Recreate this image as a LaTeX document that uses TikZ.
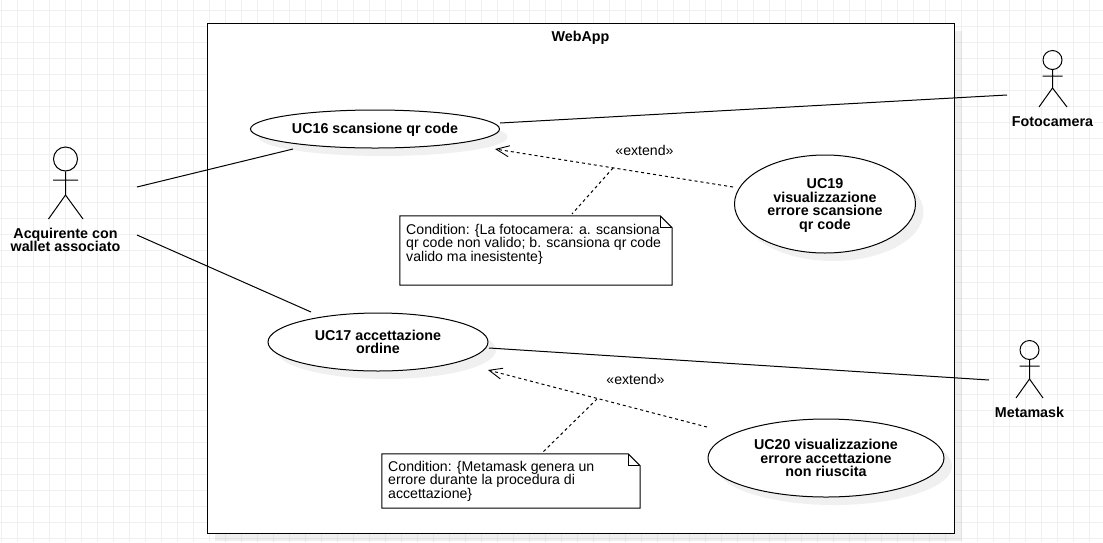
\documentclass[tikz,border=0pt]{standalone}
\usepackage{fontspec}
\setmainfont{Liberation Sans}
\usetikzlibrary{shapes.geometric,arrows.meta,calc}
\definecolor{gridc}{HTML}{F0F0F0}
\newcommand{\regfont}{\fontsize{14.12}{14.5}\selectfont\lineskiplimit=-20pt\relax}
\newcommand{\boldfont}{\fontsize{14.3}{14.5}\selectfont\bfseries\lineskiplimit=-20pt\relax}
\tikzset{
  x=1pt,y=-1pt,
  ln/.style={draw=black,line width=1pt},
  ucase/.style={ellipse,ln,fill=white,inner sep=0pt,align=center,font=\boldfont},
  shade/.style={fill=black,fill opacity=.06},
  actorhead/.style={circle,ln,inner sep=0pt},
  actorlabel/.style={align=center,font=\boldfont,inner sep=0pt},
  plain/.style={font=\regfont,inner sep=0pt},
  notetext/.style={font=\regfont,inner sep=0pt,align=left,anchor=north west},
  notebox/.style={inner sep=0pt,rectangle},
  dep/.style={ln,dash pattern=on 3pt off 3pt},
  deptip/.style={-{Straight Barb[length=13pt,width=11pt,line width=.9pt]}},
}
\begin{document}
\begin{tikzpicture}
\useasboundingbox (0,0) rectangle (1103,542);
\fill[white] (0,0) rectangle (1103,542);
% grid
\foreach \k in {0,...,68} {\draw[gridc,line width=1pt] ({1.5+16*\k},0) -- ({1.5+16*\k},542);}
\foreach \k in {-1,...,33} {\draw[gridc,line width=1pt] (0,{10.5+16*\k}) -- (1103,{10.5+16*\k});}
% system box
\fill[shade] (215,31) rectangle (962,541);
\node[ln,fill=white,rectangle,inner sep=0pt,minimum width=747pt,minimum height=510pt] (webapp) at (580.5,278) {};
\node[font=\boldfont,inner sep=0pt] (webapptitle) at (580.5,37.7) {WebApp};
% ellipse shadows
\fill[shade] (383,137) ellipse [x radius=124.5,y radius=19];
\fill[shade] (386,350) ellipse [x radius=110,y radius=29];
\fill[shade] (833,212) ellipse [x radius=90.5,y radius=49];
\fill[shade] (834,466) ellipse [x radius=118,y radius=39];
% use cases
\node[ucase,minimum width=249pt,minimum height=38pt] (uc16) at (375,129) {\rule{0pt}{12pt}UC16 scansione qr code};
\node[ucase,minimum width=220pt,minimum height=58pt] (uc17) at (378,342) {UC17 accettazione\\[-1pt]ordine};
\node[ucase,minimum width=181pt,minimum height=98pt] (uc19) at (825,204) {\rule{0pt}{13pt}UC19\\[-1pt]visualizzazione\\[-1pt]errore scansione\\[-1pt]qr code};
\node[ucase,minimum width=236pt,minimum height=78pt] (uc20) at (826,458) {UC20 visualizzazione\\[-1pt]errore accettazione\\[-1pt]non riuscita};
% notes
\node[notebox,minimum width=272pt,minimum height=69pt] (note1) at (536,250.5) {};
\draw[ln,fill=white] (note1.north west) -- ($(note1.north east)+(-12,0)$) -- ($(note1.north east)+(0,12)$) -- (note1.south east) -- (note1.south west) -- cycle;
\draw[ln] ($(note1.north east)+(-12,0)$) -- ($(note1.north east)+(-12,12)$) -- ($(note1.north east)+(0,12)$);
\node[notetext] (note1text) at (406,224) {Condition: \{La fotocamera: a. scansiona\\[-1pt]qr code non valido; b. scansiona qr code\\[-1pt]valido ma inesistente\}};
\node[notebox,minimum width=258pt,minimum height=54pt] (note2) at (511,481) {};
\draw[ln,fill=white] (note2.north west) -- ($(note2.north east)+(-12,0)$) -- ($(note2.north east)+(0,12)$) -- (note2.south east) -- (note2.south west) -- cycle;
\draw[ln] ($(note2.north east)+(-12,0)$) -- ($(note2.north east)+(-12,12)$) -- ($(note2.north east)+(0,12)$);
\node[notetext] (note2text) at (388,461) {Condition: \{Metamask genera un\\[-1pt]errore durante la procedura di\\[-1pt]accettazione\}};
% actors
\node[actorhead,minimum size=24pt] (a1) at (65.5,159) {};
\coordinate (a1hip) at (65.5,195);
\coordinate (a1l) at (48.5,219);
\coordinate (a1r) at (83,219);
\coordinate (a1al) at (53,180);
\coordinate (a1ar) at (78,180);
\draw[ln] (a1.south) -- (a1hip) (a1al) -- (a1ar) (a1l) -- (a1hip) -- (a1r);
\node[actorlabel] (a1label) at (65.5,240) {Acquirente con\\[-1pt]wallet associato};
\node[actorhead,minimum size=19pt] (a2) at (1052.5,60) {};
\coordinate (a2hip) at (1052.5,88);
\coordinate (a2l) at (1039,107);
\coordinate (a2r) at (1067,107);
\coordinate (a2al) at (1042.5,76);
\coordinate (a2ar) at (1062.5,76);
\draw[ln] (a2.south) -- (a2hip) (a2al) -- (a2ar) (a2l) -- (a2hip) -- (a2r);
\node[actorlabel] (a2label) at (1052.5,122) {Fotocamera};
\node[actorhead,minimum size=19pt] (a3) at (1029.5,350) {};
\coordinate (a3hip) at (1029.5,379);
\coordinate (a3l) at (1016,398);
\coordinate (a3r) at (1043,398);
\coordinate (a3al) at (1019.5,366);
\coordinate (a3ar) at (1039.5,366);
\draw[ln] (a3.south) -- (a3hip) (a3al) -- (a3ar) (a3l) -- (a3hip) -- (a3r);
\node[actorlabel] (a3label) at (1029.5,412) {Metamask};
% association ends
\coordinate (a1up) at (137,187);
\coordinate (a1down) at (137,235);
\coordinate (uc16in) at (293,149);
\coordinate (uc17in) at (311,312);
\coordinate (uc16out) at (500,123);
\coordinate (a2in) at (1007,95);
\coordinate (uc17out) at (489,348);
\coordinate (a3in) at (989,380);
\draw[ln] (a1up) -- (uc16in);
\draw[ln] (a1down) -- (uc17in);
\draw[ln] (uc16out) -- (a2in);
\draw[ln] (uc17out) -- (a3in);
% extend
\coordinate (e1from) at (733,187);
\coordinate (e1to) at (495,149);
\coordinate (e1mid) at (613,168);
\coordinate (n1top) at (572,214);
\coordinate (e2from) at (707,427);
\coordinate (e2to) at (488,370);
\coordinate (e2mid) at (597,399);
\coordinate (n2top) at (543,452);
\draw[dep,deptip] (e1from) -- (e1to);
\draw[dep,deptip] (e2from) -- (e2to);
\draw[dep] (e1mid) -- (n1top);
\draw[dep] (e2mid) -- (n2top);
\node[plain] (ext1) at (644.5,150) {«extend»};
\node[plain] (ext2) at (635.5,379) {«extend»};
\end{tikzpicture}
\end{document}
